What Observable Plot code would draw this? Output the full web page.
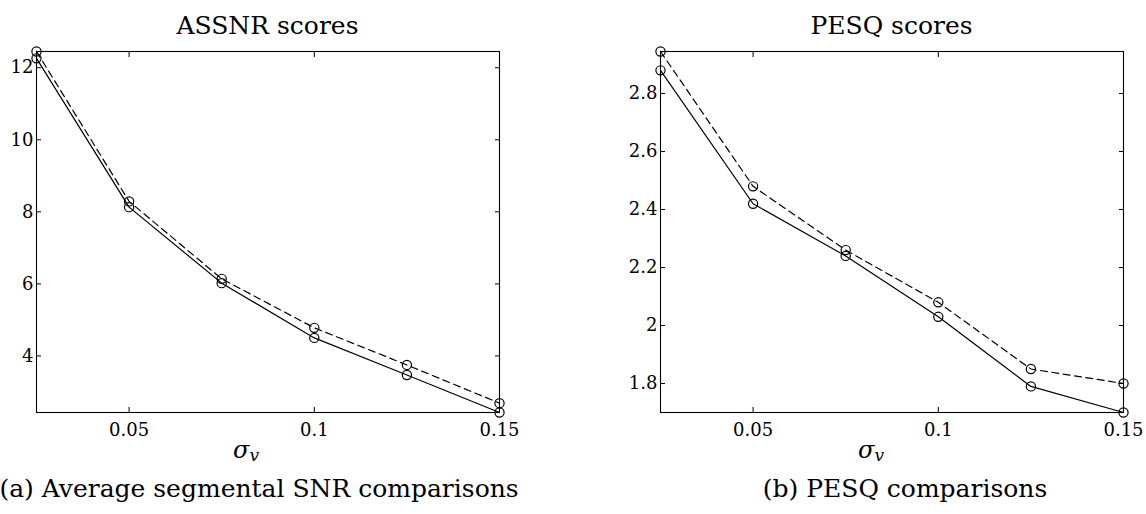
<!DOCTYPE html>
<html>
<head>
<meta charset="utf-8">
<script src="https://cdn.jsdelivr.net/npm/d3@7"></script>
<script src="https://cdn.jsdelivr.net/npm/@observablehq/plot@0.6"></script>
<style>
  body { margin: 0; background: #fff; }
  #fig { position: relative; width: 1146px; height: 514px; overflow: hidden;
         font-family: "DejaVu Serif", serif; color: #000; background: #fff; }
  .abs { position: absolute; white-space: nowrap; line-height: 1; }
  .title { font-size: 25px; text-align: center; width: 400px; }
  .caption { font-size: 25px; text-align: center; width: 700px; }
  .xlabel { font-size: 24px; }
  .xlabel i { font-style: italic; }
  .xlabel sub { font-size: 17px; font-style: italic; vertical-align: -3px; }
  .panel { position: absolute; top: 0; }
</style>
</head>
<body>
<div id="fig"></div>
<script>
// Noise level on the x axis (shared by both panels)
const sigmaV = [0.025, 0.05, 0.075, 0.1, 0.125, 0.15];

// Average segmental SNR (ASSNR) scores
const assnrSolid  = [12.26, 8.13, 6.02, 4.50, 3.47, 2.43];
const assnrDashed = [12.45, 8.29, 6.14, 4.78, 3.75, 2.69];

// PESQ scores
const pesqSolid  = [2.88, 2.42, 2.24, 2.03, 1.79, 1.70];
const pesqDashed = [2.945, 2.48, 2.26, 2.08, 1.85, 1.80];

// Tick values
const xTicks = [0.05, 0.1, 0.15];
const assnrTicks = [4, 6, 8, 10, 12];
const pesqTicks = [1.8, 2, 2.2, 2.4, 2.6, 2.8];

const panelW = 573, panelH = 514;

function rows(solid, dashed) {
  return [
    ...sigmaV.map((s, i) => ({sigma: s, score: solid[i], kind: "solid"})),
    ...sigmaV.map((s, i) => ({sigma: s, score: dashed[i], kind: "dashed"}))
  ];
}

function panel({solid, dashed, yTicks, marginLeft, marginRight}) {
  const data = rows(solid, dashed);
  const fmt = d => String(d);
  const blank = () => "";
  return Plot.plot({
    width: panelW,
    height: panelH,
    marginLeft,
    marginRight,
    marginTop: 51,
    marginBottom: 102,
    style: {fontFamily: "DejaVu Serif", fontSize: "18px", color: "black", background: "none", overflow: "visible"},
    x: {domain: [0.025, 0.15], label: null},
    y: {domain: d3.extent(data, d => d.score), label: null},
    marks: [
      Plot.frame({stroke: "black", strokeWidth: 1.1}),
      Plot.axisX(xTicks, {anchor: "bottom", tickSize: -5, tickPadding: 16, tickFormat: fmt, label: null}),
      Plot.axisX(xTicks, {anchor: "top", tickSize: -5, tickFormat: blank, label: null}),
      Plot.axisY(yTicks, {anchor: "left", tickSize: -5, tickPadding: 8, tickFormat: fmt, label: null}),
      Plot.axisY(yTicks, {anchor: "right", tickSize: -5, tickFormat: blank, label: null}),
      Plot.line(data.filter(d => d.kind === "dashed"), {x: "sigma", y: "score", stroke: "black", strokeWidth: 1.2, strokeDasharray: "7,4.5"}),
      Plot.line(data.filter(d => d.kind === "solid"), {x: "sigma", y: "score", stroke: "black", strokeWidth: 1.2}),
      Plot.dot(data, {x: "sigma", y: "score", r: 4.6, stroke: "black", strokeWidth: 1.2, fill: "none"})
    ]
  });
}

const fig = document.getElementById("fig");

const left = panel({solid: assnrSolid, dashed: assnrDashed, yTicks: assnrTicks, marginLeft: 36, marginRight: 74});
left.classList.add("panel");
left.style.left = "0px";
fig.appendChild(left);

const right = panel({solid: pesqSolid, dashed: pesqDashed, yTicks: pesqTicks, marginLeft: 87, marginRight: 23});
right.classList.add("panel");
right.style.left = "573px";
fig.appendChild(right);

function addText(cls, html, x, y) {
  const el = document.createElement("div");
  el.className = "abs " + cls;
  el.innerHTML = html;
  el.style.left = x + "px";
  el.style.top = y + "px";
  fig.appendChild(el);
  return el;
}

// Panel titles, centred over each plot area
addText("title", "ASSNR scores", 267.5 - 200, 13);
addText("title", "PESQ scores", 891.5 - 200, 13);

// x-axis label σ_v under each panel
addText("xlabel", "<i>σ</i><sub>v</sub>", 233, 438);
addText("xlabel", "<i>σ</i><sub>v</sub>", 858, 438);

// Sub-figure captions
addText("caption", "(a) Average segmental SNR comparisons", 259 - 350, 476);
addText("caption", "(b) PESQ comparisons", 905 - 350, 476);
</script>
</body>
</html>
